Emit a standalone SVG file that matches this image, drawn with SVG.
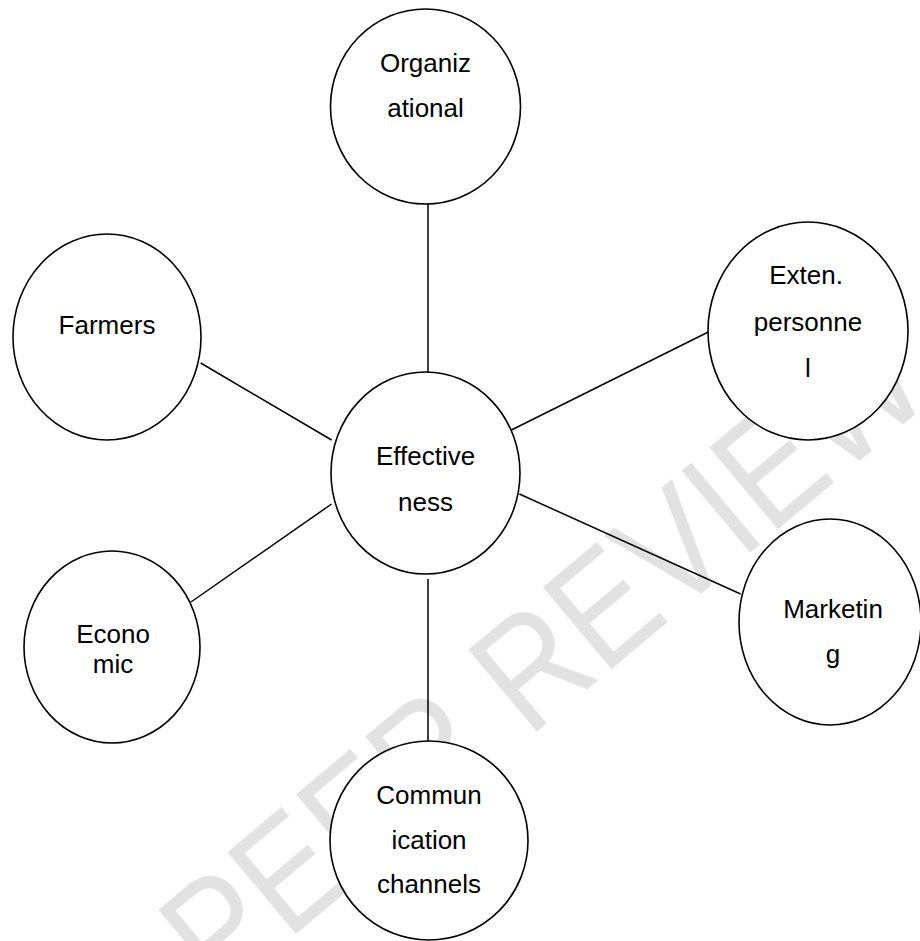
<svg xmlns="http://www.w3.org/2000/svg" width="920" height="941" viewBox="0 0 920 941">
<style>
.node ellipse{fill:#fff;stroke:#000;stroke-width:1.6}
.node text{font-family:"Liberation Sans",Arial,sans-serif;font-size:26px;fill:#000;text-anchor:middle}
.conn line{stroke:#000;stroke-width:1.5}
.wm{font-family:"Liberation Sans",Arial,sans-serif;font-size:155px;fill:#e2e2e2}
</style>
<rect width="920" height="941" fill="#fff"/>
<g id="watermark" transform="translate(218.5 998.7) rotate(-40) scale(0.87 1)">
<text class="wm" x="0" y="0">PEER REVIEW</text>
</g>
<g id="connectors" class="conn">
<line x1="428" y1="204" x2="428" y2="372"/>
<line x1="200.7" y1="363" x2="331.6" y2="440"/>
<line x1="708.3" y1="332" x2="509.4" y2="431"/>
<line x1="519.4" y1="494" x2="740.6" y2="594"/>
<line x1="331.6" y1="504" x2="191" y2="602"/>
<line x1="428" y1="579" x2="428" y2="744"/>
</g>
<g id="organizational" class="node">
<ellipse cx="425.5" cy="106.5" rx="95" ry="97.5"/>
<text x="425.5" y="72">Organiz</text>
<text x="425.5" y="117">ational</text>
</g>
<g id="farmers" class="node">
<ellipse cx="107" cy="337" rx="94" ry="103"/>
<text x="107" y="334">Farmers</text>
</g>
<g id="exten-personnel" class="node">
<ellipse cx="808" cy="331" rx="100" ry="109"/>
<text x="806" y="284">Exten.</text>
<text x="808" y="331">personne</text>
<text x="808" y="377">l</text>
</g>
<g id="effectiveness" class="node">
<ellipse cx="425.5" cy="473" rx="94.5" ry="101"/>
<text x="425.5" y="465">Effective</text>
<text x="425.5" y="510.5">ness</text>
</g>
<g id="economic" class="node">
<ellipse cx="112" cy="647" rx="88" ry="96"/>
<text x="113" y="643">Econo</text>
<text x="113" y="673">mic</text>
</g>
<g id="marketing" class="node">
<ellipse cx="830" cy="622" rx="91" ry="103"/>
<text x="833" y="618">Marketin</text>
<text x="833" y="663">g</text>
</g>
<g id="communication" class="node">
<ellipse cx="429" cy="840.5" rx="99" ry="99.5"/>
<text x="429" y="804">Commun</text>
<text x="429" y="849">ication</text>
<text x="429" y="893">channels</text>
</g>
</svg>
